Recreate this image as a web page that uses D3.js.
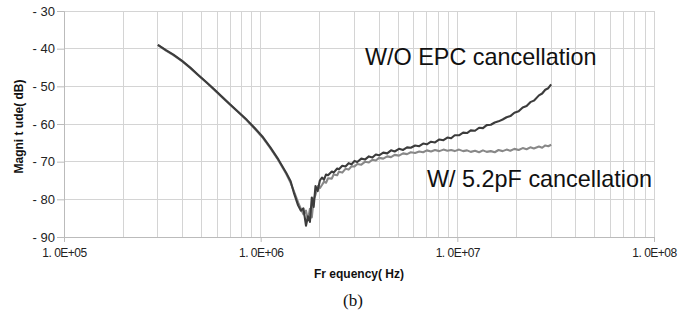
<!DOCTYPE html>
<html><head><meta charset="utf-8">
<script src="https://cdnjs.cloudflare.com/ajax/libs/d3/7.8.5/d3.min.js"></script>
<style>body{margin:0;background:#fff}svg{display:block}</style>
</head><body>
<script>
const freqs = [3.0e5,3.3e5,3.6e5,4.0e5,4.4e5,4.8e5,5.3e5,5.8e5,6.4e5,7.0e5,7.7e5,8.5e5,9.3e5,1.02e6,1.12e6,1.23e6,1.35e6,1.42e6,1.48e6,1.55e6,1.6e6,1.65e6,1.7e6,1.74e6,1.78e6,1.82e6,1.86e6,1.9e6,1.95e6,2.0e6,
 2.05e6,2.1e6,2.15e6,2.2e6,2.3e6,2.35e6,2.45e6,2.5e6,2.6e6,2.7e6,2.8e6,2.9e6,3.0e6,3.1e6,3.25e6,3.4e6,3.55e6,3.7e6,3.85e6,4.0e6,4.2e6,4.4e6,4.6e6,4.8e6,5.05e6,5.3e6,5.55e6,5.8e6,6.1e6,6.4e6,6.7e6,7.0e6,7.35e6,7.7e6,8.1e6,8.5e6,8.9e6,9.3e6,9.7e6,
 1.02e7,1.07e7,1.12e7,1.17e7,1.23e7,1.29e7,1.35e7,1.41e7,1.48e7,1.55e7,1.62e7,1.7e7,1.78e7,1.86e7,1.95e7,2.05e7,2.15e7,2.25e7,2.35e7,2.45e7,2.6e7,2.7e7,2.8e7,2.9e7,3.0e7];
const withoutEPC = [-39.0,-40.4,-41.6,-43.3,-45.1,-46.9,-48.9,-50.8,-52.9,-54.8,-56.8,-58.9,-61.0,-63.3,-66.2,-69.4,-73.0,-75.2,-78.5,-81.6,-83.0,-82.4,-87.0,-84.5,-86.0,-79.5,-82.0,-76.5,-77.8,-75.0,
 -74.2,-74.8,-73.4,-73.6,-72.6,-72.9,-71.8,-72.0,-71.1,-71.3,-70.4,-70.7,-69.8,-70.1,-69.2,-69.4,-68.6,-68.9,-68.1,-68.3,-67.6,-67.8,-67.0,-67.3,-66.6,-66.9,-66.2,-66.3,-65.7,-65.9,-65.2,-65.4,-64.7,-64.9,-64.1,-64.3,-63.6,-63.8,-63.0,
 -63.0,-62.3,-62.4,-61.7,-61.8,-61.0,-61.1,-60.3,-60.2,-59.6,-59.3,-58.8,-58.2,-57.9,-57.0,-56.6,-55.6,-55.2,-54.2,-53.8,-52.4,-51.9,-50.9,-50.5,-49.5];
const with52pF = [-39.0,-40.5,-41.7,-43.4,-45.2,-47.0,-49.0,-50.9,-53.0,-54.9,-56.9,-59.0,-61.2,-63.5,-66.4,-69.6,-73.3,-75.6,-78.0,-80.8,-82.5,-84.0,-83.0,-85.5,-82.5,-84.8,-80.0,-78.8,-76.5,-77.0,
 -76.2,-75.3,-75.6,-74.4,-74.5,-73.4,-73.6,-72.7,-72.9,-71.9,-72.1,-71.2,-71.3,-70.6,-70.8,-70.0,-70.2,-69.5,-69.7,-69.0,-69.2,-68.6,-68.8,-68.2,-68.4,-67.8,-68.0,-67.5,-67.7,-67.3,-67.5,-67.0,-67.3,-66.9,-67.2,-66.8,-67.1,-66.9,-67.2,
 -66.8,-67.2,-67.0,-67.4,-67.1,-67.5,-67.0,-67.4,-67.2,-67.5,-66.9,-67.2,-66.8,-67.1,-66.6,-66.9,-66.4,-66.7,-66.2,-66.5,-66.0,-66.3,-65.7,-65.9,-65.5];
const yTicks = [-30,-40,-50,-60,-70,-80,-90];
const xTicks = [1e5,1e6,1e7,1e8];
const xTickLabels = ["1. 0E+05","1. 0E+06","1. 0E+07","1. 0E+08"];
const seriesNames = ["W/O EPC cancellation","W/ 5.2pF cancellation"];

const W=687,H=312;
const svg=d3.select("body").append("svg").attr("width",W).attr("height",H);
const x=d3.scaleLog().domain([1e5,1e8]).range([64,654]);
const y=d3.scaleLinear().domain([-90,-30]).range([237,11]);
const font="Liberation Sans, Arial, sans-serif";

// minor/major grid
const gridX=[];
for(let d=1e5; d<1e8; d*=10){ for(let k=1;k<=9;k++) gridX.push(d*k); }
gridX.push(1e8);
svg.append("g").selectAll("line").data(gridX).join("line")
  .attr("x1",d=>x(d)).attr("x2",d=>x(d)).attr("y1",y(-30)).attr("y2",y(-90))
  .attr("stroke","#d4d4d4").attr("stroke-width",1).attr("shape-rendering","crispEdges");
svg.append("g").selectAll("line").data(yTicks).join("line")
  .attr("x1",x(1e5)).attr("x2",x(1e8)).attr("y1",d=>y(d)).attr("y2",d=>y(d))
  .attr("stroke","#d4d4d4").attr("stroke-width",1).attr("shape-rendering","crispEdges");

// axes
const ya=svg.append("g").attr("transform",`translate(${x(1e5)},0)`)
  .call(d3.axisLeft(y).tickValues(yTicks).tickSize(7).tickPadding(2).tickFormat(d=>"- "+Math.abs(d)));
ya.select(".domain").attr("stroke","#bbb");
ya.selectAll(".tick line").attr("stroke","#bbb");
ya.selectAll("text").attr("font-family",font).attr("font-size",13).attr("fill","#222");

const xa=svg.append("g").attr("transform",`translate(0,${y(-90)})`)
  .call(d3.axisBottom(x).tickValues(xTicks).tickSize(5).tickPadding(6).tickFormat((d,i)=>xTickLabels[i]));
xa.select(".domain").attr("stroke","#bbb");
xa.selectAll(".tick line").attr("stroke","#bbb");
xa.selectAll("text").attr("font-family",font).attr("font-size",12).attr("fill","#222").attr("letter-spacing","-0.5");

// lines
const line=d3.line().x((d,i)=>x(freqs[i])).y(d=>y(d));
svg.append("path").datum(with52pF).attr("d",line).attr("fill","none")
  .attr("stroke","#888888").attr("stroke-width",2.1).attr("stroke-linejoin","round");
svg.append("path").datum(withoutEPC).attr("d",line).attr("fill","none")
  .attr("stroke","#3c3c3c").attr("stroke-width",2.1).attr("stroke-linejoin","round");

// annotations
svg.append("text").attr("x",365).attr("y",65).attr("font-family",font).attr("font-size",23.4).attr("fill","#111").text(seriesNames[0]);
svg.append("text").attr("x",427).attr("y",187).attr("font-family",font).attr("font-size",23.4).attr("fill","#111").text(seriesNames[1]);

// axis titles
svg.append("text").attr("transform",`translate(22.5,126.5) rotate(-90)`)
  .attr("text-anchor","middle").attr("font-family",font).attr("font-weight","bold").attr("font-size",12).attr("fill","#111").text("Magni t ude( dB)");
svg.append("text").attr("x",359).attr("y",278).attr("text-anchor","middle")
  .attr("font-family",font).attr("font-weight","bold").attr("font-size",12).attr("fill","#111").text("Fr equency( Hz)");
svg.append("text").attr("x",353).attr("y",306).attr("text-anchor","middle")
  .attr("font-family","Liberation Serif, Times New Roman, serif").attr("font-size",17).attr("fill","#111").text("(b)");
</script>
</body></html>
